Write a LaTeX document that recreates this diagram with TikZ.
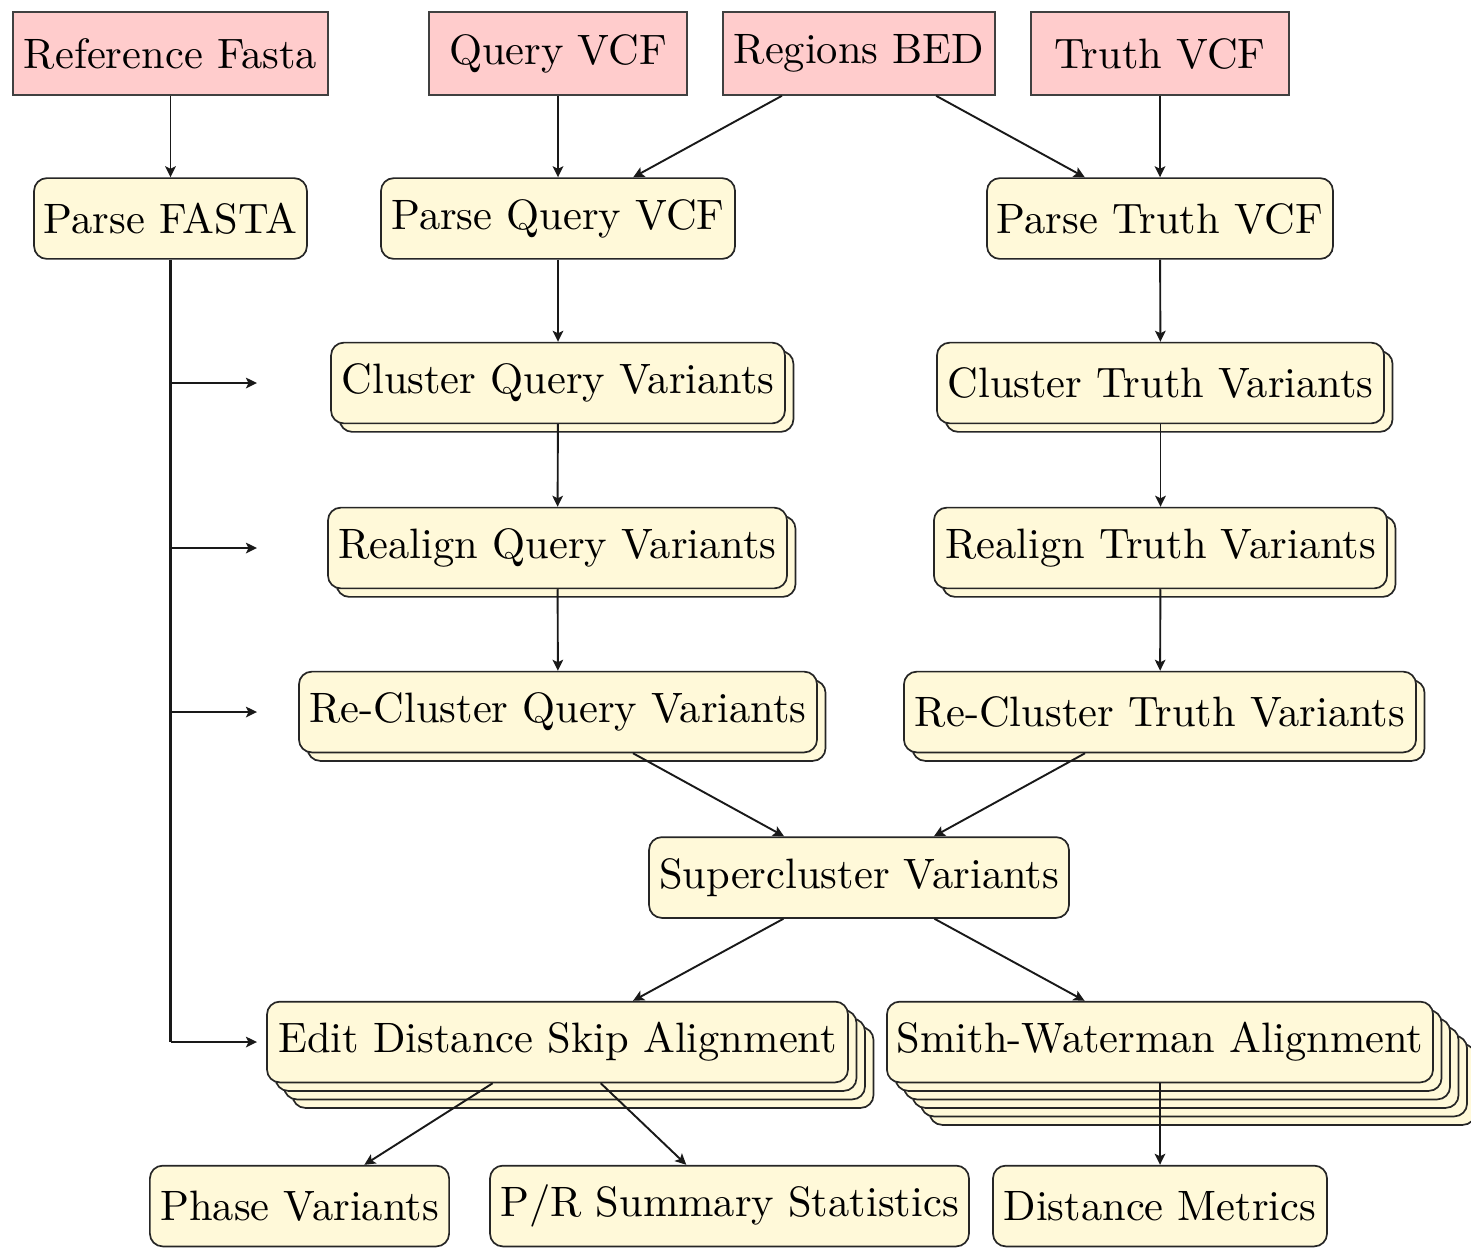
\documentclass[tikz,border=0pt]{standalone}
\usetikzlibrary{shadows,arrows.meta}
\definecolor{inpink}{RGB}{255,204,204}
\definecolor{boxyellow}{RGB}{255,249,217}
\begin{document}
\begin{tikzpicture}[x=0.23529pt,y=-0.23529pt,
  inbox/.style={draw=black!75, fill=inpink, inner sep=0pt, minimum height=19.5pt, minimum width=#1},
  stepbox/.style={draw=black!85, fill=boxyellow, rounded corners=3pt, inner sep=0pt, minimum height=19pt, minimum width=#1},
  sh/.style={copy shadow={shadow xshift=#1, shadow yshift=-#1, fill=boxyellow, draw=black!85, opacity=1}},
  stackA/.style={sh=2pt},
  stackC/.style={sh=6pt, sh=4pt, sh=2pt},
  stackE/.style={sh=10pt, sh=8pt, sh=6pt, sh=4pt, sh=2pt},
  conn/.style={-{Stealth[length=2.6pt,width=2.5pt,inset=0.6pt]}, black!90, line width=0.45pt},
  bus/.style={black!90, line width=0.8pt}
]
\useasboundingbox (0,0) rectangle (1471,1248);

% inputs
\node[inbox=74.1pt] (rf) at (170.5,53.5) {Reference Fasta};
\node[inbox=60.7pt] (qv) at (558,53.5) {Query VCF};
\node[inbox=64pt]   (rb) at (859,53.5) {Regions BED};
\node[inbox=60.7pt] (tv) at (1160,53.5) {Truth VCF};

% parse
\node[stepbox=64.2pt] (pf) at (170.5,218.5) {Parse FASTA};
\node[stepbox=83.3pt] (pq) at (558,218.5) {Parse Query VCF};
\node[stepbox=81.4pt] (pt) at (1160,218.5) {Parse Truth VCF};

% cluster
\node[stepbox=106.8pt, stackA] (cq) at (558,383) {Cluster Query Variants};
\node[stepbox=105.2pt, stackA] (ct) at (1160.5,383) {Cluster Truth Variants};

% realign
\node[stepbox=108pt, stackA] (rq) at (557.5,548) {Realign Query Variants};
\node[stepbox=106.6pt, stackA] (rt) at (1160.5,548) {Realign Truth Variants};

% re-cluster
\node[stepbox=121.9pt, stackA] (xq) at (558,712) {Re-Cluster Query Variants};
\node[stepbox=120.5pt, stackA] (xt) at (1160,712) {Re-Cluster Truth Variants};

% supercluster
\node[stepbox=98.8pt] (sc) at (859,877.5) {Supercluster Variants};

% alignment
\node[stepbox=136.7pt, stackC] (ed) at (557.5,1042) {Edit Distance Skip Alignment};
\node[stepbox=128.5pt, stackE] (sw) at (1160,1042) {Smith-Waterman Alignment};

% outputs
\node[stepbox=70.4pt]  (ph) at (299.5,1206) {Phase Variants};
\node[stepbox=112.7pt] (pr) at (729.5,1206) {P/R Summary Statistics};
\node[stepbox=78.6pt]  (dm) at (1160,1206) {Distance Metrics};

% connectors
\draw[conn] (rf) -- (pf);
\draw[conn] (qv) -- (pq);
\draw[conn] (rb) -- (pq);
\draw[conn] (rb) -- (pt);
\draw[conn] (tv) -- (pt);
\draw[conn] (pq) -- (cq);
\draw[conn] (pt) -- (ct);
\draw[conn] (cq) -- (rq);
\draw[conn] (ct) -- (rt);
\draw[conn] (rq) -- (xq);
\draw[conn] (rt) -- (xt);
\draw[conn] (xq) -- (sc);
\draw[conn] (xt) -- (sc);
\draw[conn] (sc) -- (ed);
\draw[conn] (sc) -- (sw);
\draw[conn] (ed) -- (ph);
\draw[conn] (ed) -- (pr);
\draw[conn] (sw) -- (dm);

% reference bus
\coordinate (b1) at (257,383);
\coordinate (b2) at (257,548);
\coordinate (b3) at (257,712);
\coordinate (b4) at (257,1042);
\draw[bus] (pf.south) -- (pf.south |- b4);
\draw[conn] (pf.south |- b4) -- (b4);
\draw[conn] (pf.south |- b1) -- (b1);
\draw[conn] (pf.south |- b2) -- (b2);
\draw[conn] (pf.south |- b3) -- (b3);
\end{tikzpicture}
\end{document}
